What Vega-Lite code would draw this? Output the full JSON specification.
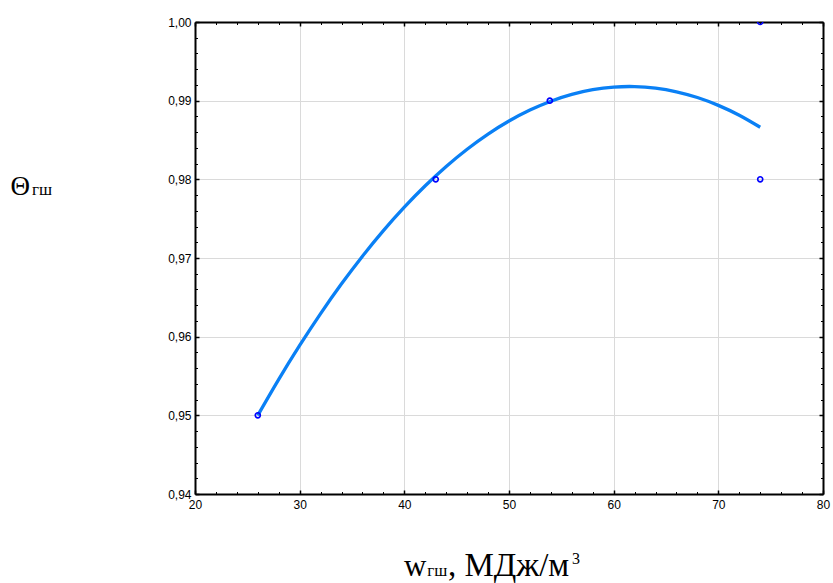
{
  "$schema": "https://vega.github.io/schema/vega-lite/v6.json",
  "width": 628,
  "height": 472,
  "autosize": {"type": "none"},
  "padding": {"left": 195, "top": 22, "right": 10, "bottom": 89},
  "background": "white",
  "config": {
    "view": {"stroke": null},
    "axis": {
      "labelFont": "Liberation Sans",
      "labelFontSize": 12,
      "labelColor": "black",
      "labelFlush": false,
      "domainColor": "black",
      "domainWidth": 2,
      "tickColor": "black",
      "gridColor": "#dadada",
      "gridWidth": 1,
      "zindex": 1
    },
    "text": {"font": "Liberation Serif", "align": "left", "baseline": "alphabetic", "color": "black"}
  },
  "datasets": {
    "observed": [
      {"w": 26, "theta": 0.95},
      {"w": 43, "theta": 0.98},
      {"w": 53.9, "theta": 0.99},
      {"w": 74, "theta": 0.98},
      {"w": 74, "theta": 1.0}
    ],
    "fit": [
      {"w": 26, "theta": 0.950000},
      {"w": 28, "theta": 0.954575},
      {"w": 30, "theta": 0.958887},
      {"w": 32, "theta": 0.962934},
      {"w": 34, "theta": 0.966715},
      {"w": 36, "theta": 0.970231},
      {"w": 38, "theta": 0.973482},
      {"w": 40, "theta": 0.976467},
      {"w": 42, "theta": 0.979187},
      {"w": 44, "theta": 0.981642},
      {"w": 46, "theta": 0.983831},
      {"w": 48, "theta": 0.985755},
      {"w": 50, "theta": 0.987413},
      {"w": 52, "theta": 0.988806},
      {"w": 54, "theta": 0.989934},
      {"w": 56, "theta": 0.990797},
      {"w": 58, "theta": 0.991394},
      {"w": 60, "theta": 0.991725},
      {"w": 62, "theta": 0.991792},
      {"w": 64, "theta": 0.991593},
      {"w": 66, "theta": 0.991128},
      {"w": 68, "theta": 0.990399},
      {"w": 70, "theta": 0.989403},
      {"w": 72, "theta": 0.988143},
      {"w": 74, "theta": 0.986617}
    ],
    "anchor": [{"n": 1}]
  },
  "resolve": {"axis": {"x": "independent", "y": "independent"}},
  "layer": [
    {
      "data": {"name": "fit"},
      "mark": {"type": "line", "color": "#0a80f5", "strokeWidth": 3.3, "interpolate": "natural"},
      "encoding": {
        "x": {
          "field": "w", "type": "quantitative",
          "scale": {"domain": [20, 80], "nice": false, "zero": false},
          "axis": {
            "orient": "bottom", "title": null,
            "values": [20,22,24,26,28,30,32,34,36,38,40,42,44,46,48,50,52,54,56,58,60,62,64,66,68,70,72,74,76,78,80],
            "labelExpr": "datum.value % 10 === 0 ? format(datum.value, 'd') : ''",
            "labelOverlap": false,
            "labelPadding": 9,
            "labelBound": false,
            "tickSize": {"condition": {"test": "datum.value % 10 === 0", "value": -4}, "value": -2.5},
            "tickWidth": {"condition": {"test": "datum.value % 10 === 0", "value": 1.5}, "value": 1},
            "gridOpacity": {"condition": {"test": "datum.value % 10 === 0", "value": 1}, "value": 0}
          }
        },
        "y": {
          "field": "theta", "type": "quantitative",
          "scale": {"domain": [0.94, 1.0], "nice": false, "zero": false},
          "axis": {
            "orient": "left", "title": null,
            "values": [0.94,0.942,0.944,0.946,0.948,0.95,0.952,0.954,0.956,0.958,0.96,0.962,0.964,0.966,0.968,0.97,0.972,0.974,0.976,0.978,0.98,0.982,0.984,0.986,0.988,0.99,0.992,0.994,0.996,0.998,1.0],
            "labelExpr": "round(datum.value * 1000) % 10 === 0 ? replace(format(datum.value, '.2f'), '.', ',') : ''",
            "labelOverlap": false,
            "labelPadding": 8,
            "labelBound": false,
            "tickSize": {"condition": {"test": "round(datum.value * 1000) % 10 === 0", "value": -4}, "value": -2.5},
            "tickWidth": {"condition": {"test": "round(datum.value * 1000) % 10 === 0", "value": 1.5}, "value": 1},
            "gridOpacity": {"condition": {"test": "round(datum.value * 1000) % 10 === 0", "value": 1}, "value": 0}
          }
        }
      }
    },
    {
      "data": {"name": "observed"},
      "mark": {"type": "point", "shape": "circle", "filled": false, "color": "#0000ff", "size": 26, "strokeWidth": 1.6, "opacity": 1, "clip": true},
      "encoding": {
        "x": {
          "field": "w", "type": "quantitative",
          "axis": {
            "orient": "top", "title": null, "labels": false, "grid": false,
            "values": [20,22,24,26,28,30,32,34,36,38,40,42,44,46,48,50,52,54,56,58,60,62,64,66,68,70,72,74,76,78,80],
            "tickSize": {"condition": {"test": "datum.value % 10 === 0", "value": -4}, "value": -2.5},
            "tickWidth": {"condition": {"test": "datum.value % 10 === 0", "value": 1.5}, "value": 1}
          }
        },
        "y": {
          "field": "theta", "type": "quantitative",
          "axis": {
            "orient": "right", "title": null, "labels": false, "grid": false,
            "values": [0.94,0.942,0.944,0.946,0.948,0.95,0.952,0.954,0.956,0.958,0.96,0.962,0.964,0.966,0.968,0.97,0.972,0.974,0.976,0.978,0.98,0.982,0.984,0.986,0.988,0.99,0.992,0.994,0.996,0.998,1.0],
            "tickSize": {"condition": {"test": "round(datum.value * 1000) % 10 === 0", "value": -4}, "value": -2.5},
            "tickWidth": {"condition": {"test": "round(datum.value * 1000) % 10 === 0", "value": 1.5}, "value": 1}
          }
        }
      }
    },
    {
      "data": {"name": "anchor"},
      "mark": {"type": "text", "text": "Θ", "fontSize": 27},
      "encoding": {
        "x": {"datum": 2.373, "type": "quantitative", "axis": null},
        "y": {"datum": 0.978008, "type": "quantitative", "axis": null}
      }
    },
    {
      "data": {"name": "anchor"},
      "mark": {"type": "text", "text": "гш", "fontSize": 17},
      "encoding": {
        "x": {"datum": 4.427, "type": "quantitative", "axis": null},
        "y": {"datum": 0.978008, "type": "quantitative", "axis": null}
      }
    },
    {
      "data": {"name": "anchor"},
      "mark": {"type": "text", "text": "w", "fontSize": 31},
      "encoding": {
        "x": {"datum": 39.968, "type": "quantitative", "axis": null},
        "y": {"datum": 0.929576, "type": "quantitative", "axis": null}
      }
    },
    {
      "data": {"name": "anchor"},
      "mark": {"type": "text", "text": "гш", "fontSize": 17},
      "encoding": {
        "x": {"datum": 42.2, "type": "quantitative", "axis": null},
        "y": {"datum": 0.929576, "type": "quantitative", "axis": null}
      }
    },
    {
      "data": {"name": "anchor"},
      "mark": {"type": "text", "text": ", МДж/м", "fontSize": 33},
      "encoding": {
        "x": {"datum": 44.172, "type": "quantitative", "axis": null},
        "y": {"datum": 0.929576, "type": "quantitative", "axis": null}
      }
    },
    {
      "data": {"name": "anchor"},
      "mark": {"type": "text", "text": "3", "fontSize": 16},
      "encoding": {
        "x": {"datum": 56.019, "type": "quantitative", "axis": null},
        "y": {"datum": 0.931102, "type": "quantitative", "axis": null}
      }
    }
  ]
}
